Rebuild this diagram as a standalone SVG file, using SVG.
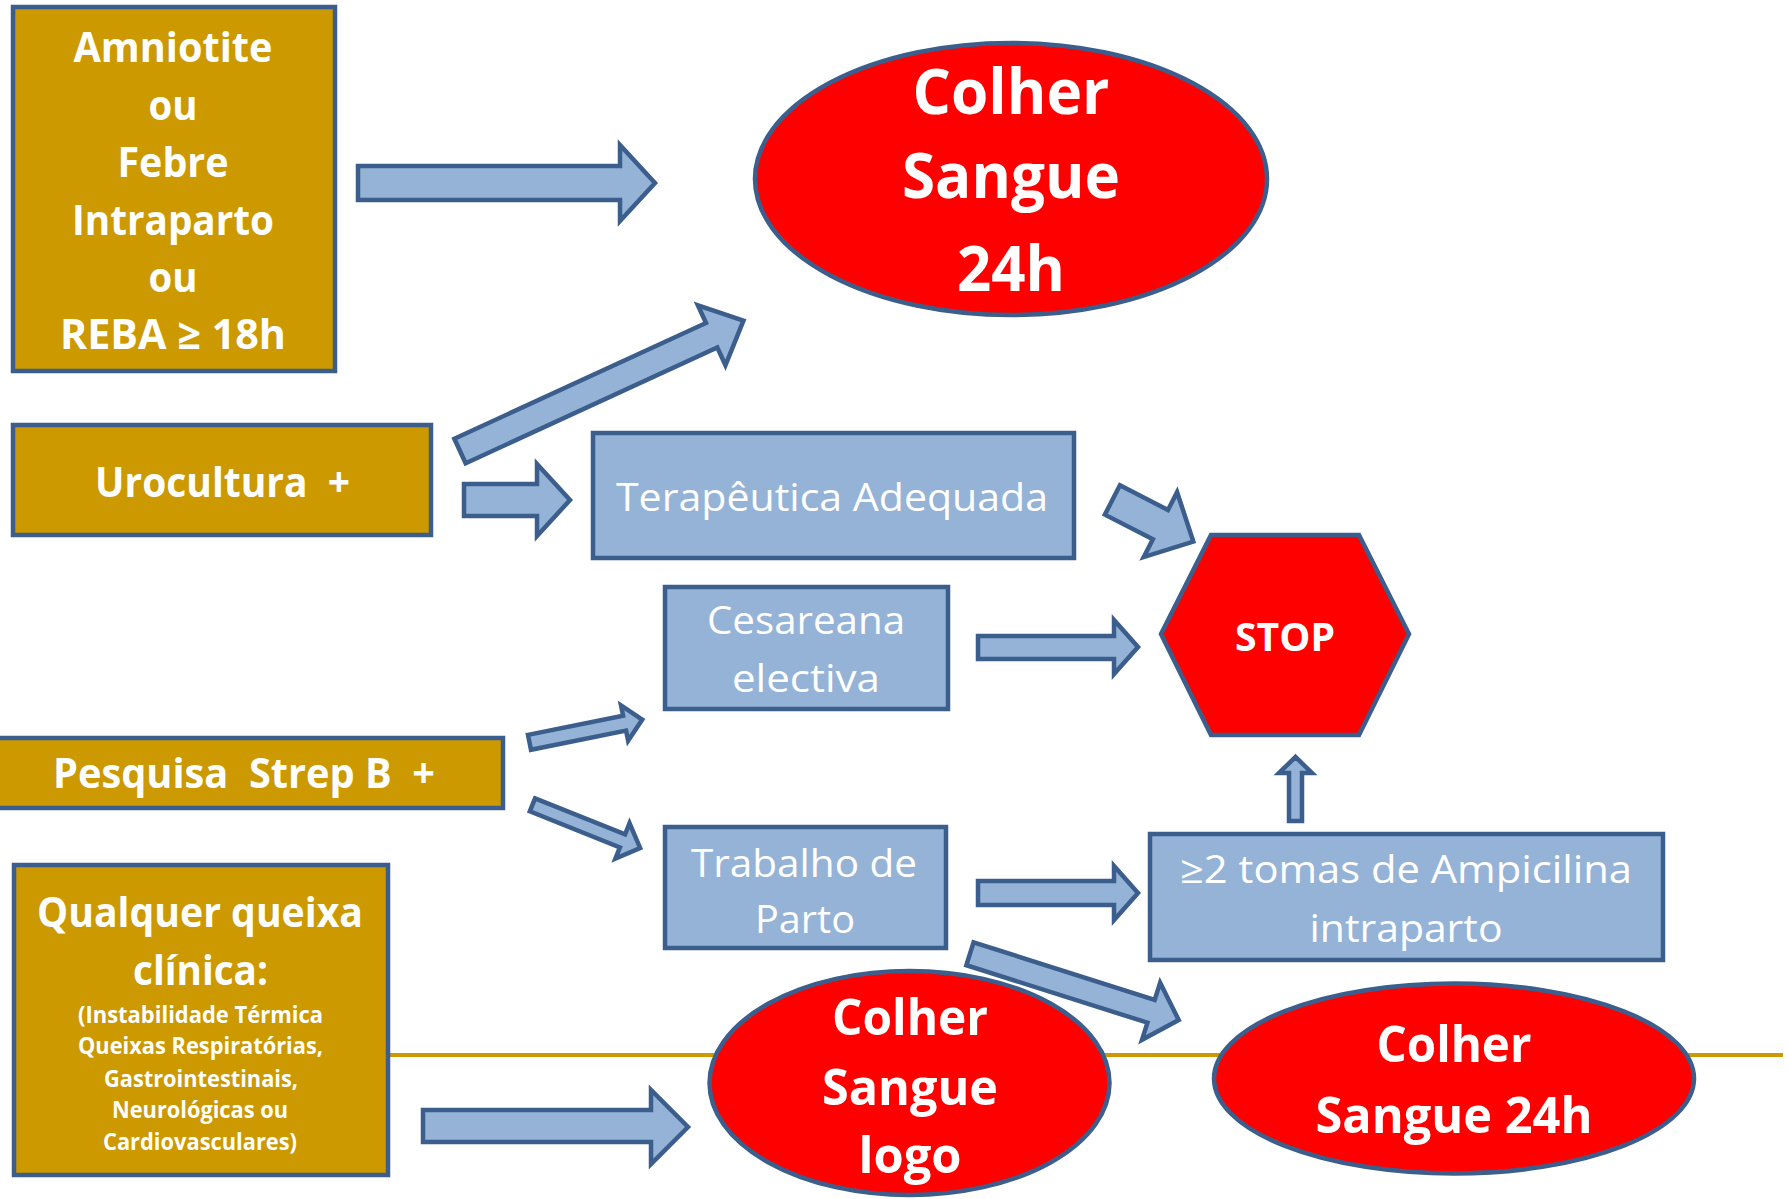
<svg xmlns="http://www.w3.org/2000/svg" width="1789" height="1199" viewBox="0 0 1789 1199">
<style>
.gold{fill:#CC9900;stroke:#3B5E8C;stroke-width:4.5}
.blue{fill:#95B3D7;stroke:#3B5E8C;stroke-width:4.5}
.red{fill:#FF0000;stroke:#3B5E8C;stroke-width:4.5}
.arr{fill:#95B3D7;stroke:#3B5E8C;stroke-width:4.5;stroke-linejoin:miter}
text{font-family:'Open Sans','Noto Sans',sans-serif;fill:#FFFFFF;text-anchor:middle;white-space:pre}
.b{font-weight:700}
.r{font-weight:400}
</style>
<rect width="1789" height="1199" fill="#FFFFFF"/>
<g id="connectors">
<line x1="389" y1="1055" x2="1783" y2="1055" stroke="#CC9900" stroke-width="4"/>
<polygon class="arr" points="358,166 620,166 620,145 655,183 620,221 620,200 358,200"/>
<polygon class="arr" transform="translate(460,451) rotate(-24.7)" points="0,-13.5 277,-13.5 277,-33 312,0 277,33 277,13.5 0,13.5"/>
<polygon class="arr" points="464,484 537,484 537,464 570,500 537,536 537,516 464,516"/>
<polygon class="arr" transform="translate(1111.5,499.5) rotate(27.2)" points="1,-16.5 55,-16.5 55,-36.5 92,0 55,36.5 55,16.5 1,16.5"/>
<polygon class="arr" points="978,636 1114,636 1114,620 1138,647 1114,674 1114,659 978,659"/>
<polygon class="arr" transform="translate(528.5,742.5) rotate(-11.4)" points="1,-7.6 98,-7.6 98,-18 116,0 98,18 98,7.6 1,7.6"/>
<polygon class="arr" transform="translate(531.5,804.5) rotate(21.8)" points="1,-7 98,-7 98,-19 117,0 98,19 98,7 1,7"/>
<polygon class="arr" points="978,881 1114,881 1114,866 1138,893 1114,920 1114,905 978,905"/>
<polygon class="arr" points="1289,821 1289,773 1279,773 1295.5,757 1312,773 1302,773 1302,821"/>
<polygon class="arr" transform="translate(969,953.5) rotate(17.6)" points="1,-12 191,-12 191,-30 220,0 191,30 191,12 1,12"/>
<polygon class="arr" points="423,1110 651,1110 651,1090 688,1127 651,1164 651,1142 423,1142"/>
</g>
<g id="amniotite">
<rect class="gold" x="13" y="7" width="322" height="364"/>
<text class="b" font-size="41" x="173" y="62" textLength="199" lengthAdjust="spacingAndGlyphs">Amniotite</text>
<text class="b" font-size="41" x="173" y="119.5" textLength="49" lengthAdjust="spacingAndGlyphs">ou</text>
<text class="b" font-size="41" x="173" y="177" textLength="111" lengthAdjust="spacingAndGlyphs">Febre</text>
<text class="b" font-size="41" x="173" y="234.5" textLength="202" lengthAdjust="spacingAndGlyphs">Intraparto</text>
<text class="b" font-size="41" x="173" y="292" textLength="49" lengthAdjust="spacingAndGlyphs">ou</text>
<text class="b" font-size="41" x="173" y="349" textLength="226" lengthAdjust="spacingAndGlyphs">REBA ≥ 18h</text>
</g>
<g id="urocultura">
<rect class="gold" x="13" y="425" width="418" height="110"/>
<text class="b" font-size="41" x="222.5" y="497" textLength="255" lengthAdjust="spacingAndGlyphs">Urocultura  +</text>
</g>
<g id="pesquisa">
<rect class="gold" x="-10" y="738" width="513" height="70"/>
<text class="b" font-size="41" x="244" y="788" textLength="382" lengthAdjust="spacingAndGlyphs">Pesquisa  Strep B  +</text>
</g>
<g id="qualquer">
<rect class="gold" x="14" y="865" width="374" height="310"/>
<text class="b" font-size="41" x="200" y="927" textLength="326" lengthAdjust="spacingAndGlyphs">Qualquer queixa</text>
<text class="b" font-size="41" x="200.5" y="985" textLength="135" lengthAdjust="spacingAndGlyphs">clínica:</text>
<text class="b" font-size="23" x="200.5" y="1023" textLength="245" lengthAdjust="spacingAndGlyphs">(Instabilidade Térmica</text>
<text class="b" font-size="23" x="200.5" y="1054" textLength="245" lengthAdjust="spacingAndGlyphs">Queixas Respiratórias,</text>
<text class="b" font-size="23" x="201" y="1087" textLength="194" lengthAdjust="spacingAndGlyphs">Gastrointestinais,</text>
<text class="b" font-size="23" x="200" y="1118" textLength="176" lengthAdjust="spacingAndGlyphs">Neurológicas ou</text>
<text class="b" font-size="23" x="200" y="1150" textLength="194" lengthAdjust="spacingAndGlyphs">Cardiovasculares)</text>
</g>
<g id="colher-top">
<ellipse class="red" cx="1011" cy="179" rx="256" ry="136"/>
<text class="b" font-size="63" x="1011" y="114" textLength="197" lengthAdjust="spacingAndGlyphs">Colher</text>
<text class="b" font-size="63" x="1011" y="198" textLength="218" lengthAdjust="spacingAndGlyphs">Sangue</text>
<text class="b" font-size="63" x="1011" y="291" textLength="108" lengthAdjust="spacingAndGlyphs">24h</text>
</g>
<g id="terapeutica">
<rect class="blue" x="593" y="433" width="481" height="125"/>
<text class="r" font-size="38" x="832" y="511" textLength="432" lengthAdjust="spacingAndGlyphs">Terapêutica Adequada</text>
</g>
<g id="cesareana">
<rect class="blue" x="665" y="587" width="283" height="122"/>
<text class="r" font-size="38" x="806" y="634" textLength="198" lengthAdjust="spacingAndGlyphs">Cesareana</text>
<text class="r" font-size="38" x="806" y="692" textLength="148" lengthAdjust="spacingAndGlyphs">electiva</text>
</g>
<g id="trabalho">
<rect class="blue" x="665" y="827" width="281" height="121"/>
<text class="r" font-size="38" x="804" y="877" textLength="226" lengthAdjust="spacingAndGlyphs">Trabalho de</text>
<text class="r" font-size="38" x="805" y="933" textLength="100" lengthAdjust="spacingAndGlyphs">Parto</text>
</g>
<g id="stop">
<polygon class="red" points="1211,535 1359,535 1409,634 1359,735 1211,735 1161,634"/>
<text class="b" font-size="40" x="1285" y="651" textLength="100" lengthAdjust="spacingAndGlyphs">STOP</text>
</g>
<g id="ampicilina">
<rect class="blue" x="1150" y="834" width="513" height="126"/>
<text class="r" font-size="38" x="1406" y="883" textLength="452" lengthAdjust="spacingAndGlyphs">≥2 tomas de Ampicilina</text>
<text class="r" font-size="38" x="1406" y="942" textLength="193" lengthAdjust="spacingAndGlyphs">intraparto</text>
</g>
<g id="colher-logo">
<ellipse class="red" cx="909.5" cy="1083" rx="200" ry="112"/>
<text class="b" font-size="51" x="910" y="1035" textLength="156" lengthAdjust="spacingAndGlyphs">Colher</text>
<text class="b" font-size="51" x="910" y="1105" textLength="176" lengthAdjust="spacingAndGlyphs">Sangue</text>
<text class="b" font-size="51" x="910" y="1173" textLength="103" lengthAdjust="spacingAndGlyphs">logo</text>
</g>
<g id="colher-24h">
<ellipse class="red" cx="1454" cy="1078.5" rx="240" ry="95"/>
<text class="b" font-size="51" x="1454" y="1062" textLength="155" lengthAdjust="spacingAndGlyphs">Colher</text>
<text class="b" font-size="51" x="1454" y="1133" textLength="277" lengthAdjust="spacingAndGlyphs">Sangue 24h</text>
</g>
</svg>
